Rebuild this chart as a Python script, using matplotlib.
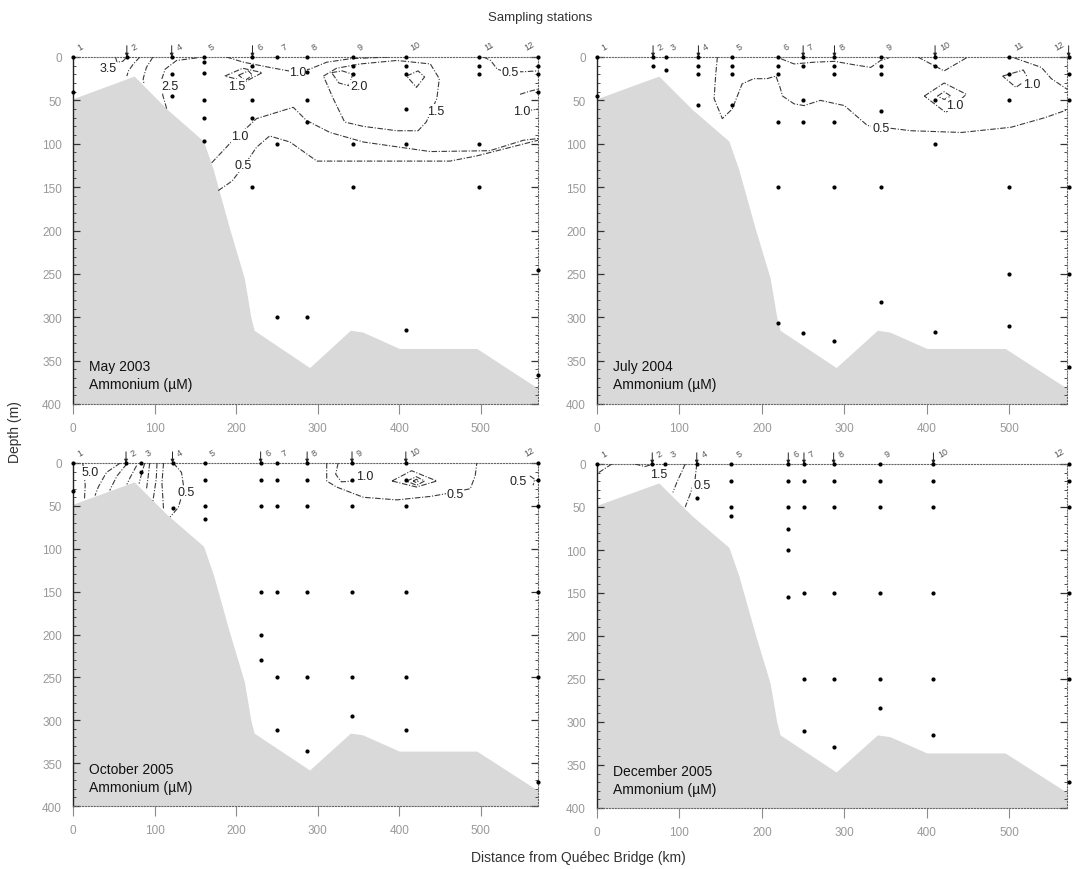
import numpy as np
import matplotlib.pyplot as plt

plt.rcParams['font.family'] = ['Liberation Sans', 'DejaVu Sans']

# bottom profile along the estuary (km, m)
bathy_x = [0, 75, 115, 160, 172, 192, 210, 218, 222, 290, 340, 355, 400, 495, 570]
bathy_d = [48, 22, 60, 97, 130, 198, 255, 300, 315, 358, 315, 317, 336, 336, 382]

# ---- May 2003 ----
may_st_x = [0, 66, 121, 160, 220, 250, 287, 343, 408, 498, 570]
may_st_lab = ['1', '2', '4', '5', '6', '7', '8', '9', '10', '11', '12']
may_arrows = ['2', '4', '6']
may_depths = [[0, 40], [0], [0, 20, 45], [0, 6, 18, 50, 70, 97], [0, 10, 50, 70, 150],
              [0, 100, 300], [0, 17, 50, 75, 300], [0, 10, 20, 100, 150],
              [0, 10, 20, 60, 100, 315], [0, 10, 20, 100, 150], [0, 10, 20, 40, 245, 367]]
may_lines = [
    ([52, 54, 61, 66], [0, 6, 5, 0]),
    ([82, 74, 68, 66], [0, 8, 16, 22]),
    ([98, 90, 86, 87], [0, 12, 25, 31]),
    ([152, 127, 113, 109, 110, 115], [1, 4, 14, 25, 44, 60]),
    ([186, 208, 232, 212, 186], [22, 13, 18, 28, 22]),
    ([203, 215, 220, 211, 203], [21, 16, 21, 27, 21]),
    ([188, 209, 241, 270, 290, 311, 340, 388], [0, 6, 12, 17, 14, 6, 2, 0]),
    ([317, 330, 343, 338, 326, 317], [18, 16, 20, 33, 30, 18]),
    ([307, 323, 352, 397, 438, 449, 446, 433, 423, 397, 356, 333, 319, 307],
     [22, 13, 8, 4, 8, 25, 48, 75, 85, 85, 80, 75, 48, 22]),
    ([409, 423, 431, 421, 409], [22, 16, 23, 35, 22]),
    ([170, 192, 225, 270, 286, 315, 356, 438, 511, 552, 570], [122, 100, 71, 58, 73, 87, 98, 109, 108, 96, 94]),
    ([548, 558, 570], [43, 40, 37]),
    ([556, 570], [62, 60]),
    ([178, 195, 212, 225, 241, 266, 299, 462, 495, 570], [154, 143, 122, 104, 91, 98, 120, 120, 114, 96]),
    ([503, 512, 520, 530, 552, 570], [0, 4, 14, 17, 17, 16]),
]
may_labels = [('3.5', 43, 13), ('2.5', 119, 33), ('1.5', 201, 33), ('1.0', 276, 17),
              ('2.0', 350, 34), ('1.5', 444, 62), ('1.0', 205, 91), ('1.0', 550, 62),
              ('0.5', 209, 125), ('0.5', 536, 17)]

# ---- July 2004 ----
jul_st_x = [0, 68, 84, 123, 164, 220, 250, 288, 345, 410, 500, 572]
jul_st_lab = ['1', '2', '3', '4', '5', '6', '7', '8', '9', '10', '11', '12']
jul_arrows = ['2', '4', '7', '8', '10', '12']
jul_depths = [[0, 45], [0, 10], [0, 15], [0, 10, 20, 55], [0, 10, 20, 55],
              [0, 10, 20, 75, 150, 307], [0, 10, 50, 75, 318], [0, 10, 20, 75, 150, 327],
              [0, 10, 20, 62, 150, 282], [0, 10, 50, 100, 317], [0, 20, 50, 150, 250, 310],
              [0, 20, 50, 150, 250, 357]]
jul_lines = [
    ([146, 144, 142, 152, 164, 176, 190, 206, 217, 222, 225, 239, 251, 271, 300, 328, 381, 442, 502, 543, 573],
     [0, 20, 48, 71, 60, 31, 25, 25, 22, 35, 45, 54, 56, 50, 56, 79, 85, 87, 81, 70, 60]),
    ([223, 239, 263, 288, 312, 332, 344, 354], [2, 8, 6, 5, 9, 12, 4, 1]),
    ([389, 421, 448], [0, 16, 1]),
    ([397, 421, 448, 423, 397], [45, 30, 43, 64, 45]),
    ([413, 421, 429, 421, 413], [45, 40, 45, 49, 45]),
    ([492, 517, 523, 508, 492], [22, 15, 25, 35, 22]),
    ([506, 539, 551, 573], [1, 12, 25, 39]),
]
jul_labels = [('0.5', 344, 82), ('1.0', 434, 55), ('1.0', 527, 31)]

# ---- October 2005 ----
oct_st_x = [0, 65, 83, 122, 162, 230, 250, 287, 342, 408, 570]
oct_st_lab = ['1', '2', '3', '4', '5', '6', '7', '8', '9', '10', '12']
oct_arrows = ['2', '4', '6', '8', '9', '10']
oct_depths = [[0, 33], [0], [0, 10], [0, 53], [0, 20, 50, 65], [0, 20, 50, 150, 200, 230],
              [0, 20, 50, 150, 250, 311], [0, 20, 50, 150, 250, 336], [0, 20, 50, 150, 250, 295],
              [0, 20, 50, 150, 250, 311], [0, 20, 50, 150, 250, 372]]
oct_lines = [
    ([12, 13, 15, 14], [0, 9, 26, 43]),
    ([58, 41, 31, 27], [0, 11, 28, 38]),
    ([66, 54, 47, 45], [1, 15, 28, 32]),
    ([78, 70, 66], [3, 17, 25]),
    ([88, 84, 81], [0, 13, 24]),
    ([94, 92, 90], [0, 17, 31]),
    ([103, 102, 98], [0, 19, 44]),
    ([111, 109, 111], [0, 23, 54]),
    ([123, 133, 136, 129, 119], [0, 11, 30, 52, 63]),
    ([325, 322, 329, 343], [0, 13, 22, 21]),
    ([311, 311, 323, 356, 397, 438, 456, 487, 493, 495], [0, 21, 28, 40, 43, 39, 36, 30, 15, 0]),
    ([391, 415, 446, 421, 391], [21, 9, 21, 28, 21]),
    ([409, 421, 431, 421, 409], [21, 16, 21, 26, 21]),
    ([417, 421, 424, 421, 417], [21, 19, 21, 23, 21]),
    ([560, 566, 564], [15, 19, 26]),
]
oct_labels = [('5.0', 21, 11), ('0.5', 139, 34), ('1.0', 358, 15), ('0.5', 468, 36), ('0.5', 546, 21)]

# ---- December 2005 ----
dec_st_x = [0, 67, 83, 121, 163, 232, 251, 287, 343, 408, 572]
dec_st_lab = ['1', '2', '3', '4', '5', '6', '7', '8', '9', '10', '12']
dec_arrows = ['2', '4', '6', '7', '8', '10']
dec_depths = [[0], [0], [0], [0, 40], [0, 20, 50, 60], [0, 20, 50, 75, 100, 155],
              [0, 20, 50, 150, 250, 310], [0, 20, 50, 150, 250, 329], [0, 20, 50, 150, 250, 284],
              [0, 20, 50, 150, 250, 315], [0, 20, 50, 150, 250, 370]]
dec_lines = [
    ([18, 2], [0, 10]),
    ([46, 58, 65, 68], [0, 3, 1, 0]),
    ([107, 97, 92], [0, 21, 33]),
    ([121, 119, 113, 107], [0, 17, 35, 50]),
]
dec_labels = [('1.5', 75, 12), ('0.5', 127, 25)]

panels = [
    ('May 2003', may_st_x, may_st_lab, may_arrows, may_depths, may_lines, may_labels),
    ('July 2004', jul_st_x, jul_st_lab, jul_arrows, jul_depths, jul_lines, jul_labels),
    ('October 2005', oct_st_x, oct_st_lab, oct_arrows, oct_depths, oct_lines, oct_labels),
    ('December 2005', dec_st_x, dec_st_lab, dec_arrows, dec_depths, dec_lines, dec_labels),
]

W, H = 1078, 870
fig = plt.figure(figsize=(W / 100, H / 100), dpi=100)
boxes = [(73, 58, 538, 405), (597, 58, 1067, 405), (73, 464, 538, 807), (597, 465, 1067, 809)]

grey = '#8c8c8c'
for (l, t, r, b), (title, st_x, st_lab, arrows, depths, lines, labels) in zip(boxes, panels):
    ax = fig.add_axes([l / W, 1 - b / H, (r - l) / W, (b - t) / H])
    ax.set_xlim(0, 570)
    ax.set_ylim(400, 0)

    ax.fill_between(bathy_x, bathy_d, 400, color='#d9d9d9', lw=0, zorder=1)

    for xs, ds in lines:
        ax.plot(xs, ds, color='#3a3a3a', lw=0.8, ls=(0, (5, 1.5, 1, 1.5)), zorder=3)
    for txt, x, d in labels:
        ax.text(x, d, txt, fontsize=9, color='#222', ha='center', va='center', zorder=4,
                bbox=dict(boxstyle='square,pad=0.05', fc='white', ec='none'))

    for x, ds in zip(st_x, depths):
        ax.plot([x] * len(ds), ds, 'o', ms=2.0, color='black', zorder=5, clip_on=False)

    for x, lab in zip(st_x, st_lab):
        # the last station sits on the right edge, so its number goes to the left
        if x > 560:
            ax.text(x - 3, -6, lab, fontsize=6.5, color='#555', rotation=30,
                    ha='right', va='bottom', clip_on=False)
        else:
            ax.text(x + 4, -6, lab, fontsize=6.5, color='#555', rotation=30,
                    ha='left', va='bottom', clip_on=False)
        if lab in arrows:
            ax.annotate('', xy=(x, 0), xytext=(x, -13), annotation_clip=False,
                        arrowprops=dict(arrowstyle='-|>', lw=0.7, color='#222',
                                        mutation_scale=5, shrinkA=0, shrinkB=0))

    ax.text(20, 367, title + '\nAmmonium (\u00b5M)', fontsize=10, color='#111',
            va='center', ha='left', linespacing=1.35, zorder=4)

    ax.set_xticks([0, 100, 200, 300, 400, 500])
    ax.set_yticks(np.arange(0, 401, 50))
    ax.set_yticks(np.arange(0, 401, 10), minor=True)
    ax.tick_params(axis='x', direction='out', length=7, width=0.8, color=grey,
                   labelsize=8.5, labelcolor='#999', pad=6)
    ax.tick_params(axis='y', which='both', direction='in', right=True, color='#333',
                   labelsize=8.5, labelcolor='#999', pad=8)
    ax.tick_params(axis='y', which='major', length=5, width=0.9)
    ax.tick_params(axis='y', which='minor', length=2.5, width=0.6)

    for side in ['top', 'bottom', 'right']:
        ax.spines[side].set_linestyle(':')
        ax.spines[side].set_color('#666')
        ax.spines[side].set_linewidth(0.8)
    ax.spines['left'].set_color('#222')
    ax.spines['left'].set_linewidth(1.0)

fig.text(540 / W, 1 - 18 / H, 'Sampling stations', fontsize=9.5, color='#333', ha='center', va='center')
fig.text(578 / W, 1 - 858 / H, 'Distance from Qu\u00e9bec Bridge (km)', fontsize=10, color='#333',
         ha='center', va='center')
fig.text(15 / W, 1 - 432 / H, 'Depth (m)', fontsize=10, color='#333', rotation=90,
         ha='center', va='center')

fig.savefig('out.png', dpi=100)
